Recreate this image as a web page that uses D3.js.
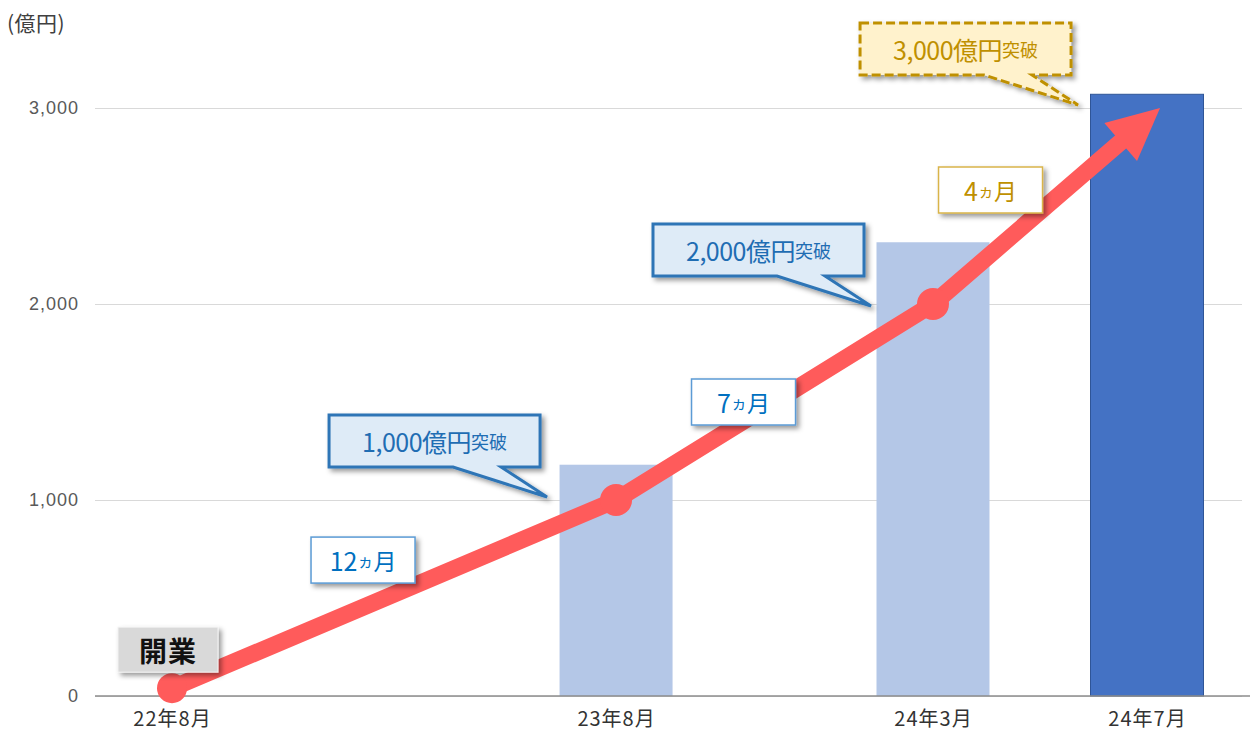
<!DOCTYPE html>
<html>
<head>
<meta charset="utf-8">
<script src="https://cdn.jsdelivr.net/npm/d3@7"></script>
<style>
  body { margin: 0; background: #fff; }
  svg { display: block; }
</style>
</head>
<body>
<div id="holder"></div>
<script>
const w = 1253;
const h = 735;

// DATA
const categories = ["22年8月", "23年8月", "24年3月", "24年7月"];
const slots = [0, 2.075, 3.556, 4.556];          // category positions on the axis
const barValues = [0, 1180, 2315, 3070];
const barFills = ["#b4c7e7", "#b4c7e7", "#b4c7e7", "#4472c4"];
const lineValues = [40, 1000, 2000, 3000];
const lineSlots = [0, 2.075, 3.556, 4.617];
const yTicks = [0, 1000, 2000, 3000];
const milestones = ["1,000", "2,000", "3,000"];
const intervals = ["12", "7", "4"];

const FONT = "'Noto Sans CJK JP', 'Noto Sans', sans-serif";

// CREATE SVG
const svg = d3.select("#holder")
    .append("svg")
    .attr("width", w)
    .attr("height", h)
    .style("font-family", FONT)

const defs = svg.append("defs")
defs.append("filter")
    .attr("id", "shadow")
    .attr("x", "-20%").attr("y", "-20%")
    .attr("width", "150%").attr("height", "160%")
    .append("feDropShadow")
    .attr("dx", 3).attr("dy", 3)
    .attr("stdDeviation", 2.5)
    .attr("flood-color", "#000")
    .attr("flood-opacity", 0.4)

// SCALES
const xScale = d3.scaleLinear()
    .domain([0, 4.556])
    .range([172, 1147])

const yScale = d3.scaleLinear()
    .domain([0, 3000])
    .range([696, 108])

const plotLeft = 95;
const plotRight = 1242;

// Y AXIS + GRID
const yAxis = d3.axisLeft(yScale)
    .tickValues(yTicks)
    .tickSize(-(plotRight - plotLeft))
    .tickPadding(16)
    .tickFormat(d3.format(","))

const gy = svg.append("g")
    .attr("transform", "translate(" + plotLeft + ",0)")
    .call(yAxis)
gy.select(".domain").remove()
gy.selectAll(".tick line").attr("stroke", "#d9d9d9").attr("stroke-width", 1)
gy.selectAll(".tick text")
    .attr("fill", "#595959")
    .style("font-family", "'Liberation Sans', Arial, sans-serif")
    .style("font-size", "18px")
    .style("letter-spacing", "1px")

svg.append("text")
    .attr("x", 7)
    .attr("y", 31)
    .attr("fill", "#404040")
    .style("font-size", "21px")
    .style("letter-spacing", "0.5px")
    .text("(億円)")

// BARS
svg.selectAll("rect.bar")
    .data(barValues)
    .enter()
    .append("rect")
    .attr("class", "bar")
    .attr("x", (d, i) => xScale(slots[i]) - 56.5)
    .attr("y", d => yScale(d))
    .attr("width", 113)
    .attr("height", d => yScale(0) - yScale(d))
    .attr("fill", (d, i) => barFills[i])
    .attr("stroke", (d, i) => i === 3 ? "#2f5597" : "none")
    .attr("stroke-width", 1)

// X AXIS
const xAxis = d3.axisBottom(xScale)
    .tickValues(slots)
    .tickSize(0)
    .tickPadding(16)
    .tickFormat((d, i) => categories[i])

const gx = svg.append("g")
    .attr("transform", "translate(0," + yScale(0) + ")")
    .call(xAxis)
gx.select(".domain").remove()
gx.selectAll(".tick text")
    .attr("fill", "#333")
    .style("font-family", FONT)
    .style("font-size", "20px")
    .style("letter-spacing", "1px")

svg.append("line")
    .attr("x1", plotLeft).attr("x2", 1250)
    .attr("y1", yScale(0)).attr("y2", yScale(0))
    .attr("stroke", "#8c8c8c")
    .attr("stroke-width", 1.5)

// ARROW LINE
const RED = "#ff5b5b";
const pts = lineValues.map((v, i) => [xScale(lineSlots[i]), yScale(v)])
const tip = pts[pts.length - 1]
const prev = pts[pts.length - 2]
const len = Math.hypot(tip[0] - prev[0], tip[1] - prev[1])
const ux = (tip[0] - prev[0]) / len, uy = (tip[1] - prev[1]) / len
const headLen = 52, headHalf = 25
const base = [tip[0] - ux * headLen, tip[1] - uy * headLen]
const shaftPts = pts.slice(0, -1).concat([[base[0] + ux * 6, base[1] + uy * 6]])

svg.append("path")
    .attr("d", d3.line()(shaftPts))
    .attr("fill", "none")
    .attr("stroke", RED)
    .attr("stroke-width", 17)
    .attr("stroke-linejoin", "round")

svg.append("path")
    .attr("d", d3.line()([
        tip,
        [base[0] - uy * headHalf, base[1] + ux * headHalf],
        [base[0] + uy * headHalf, base[1] - ux * headHalf]
    ]) + "Z")
    .attr("fill", RED)

svg.selectAll("circle.pt")
    .data(pts.slice(0, -1))
    .enter()
    .append("circle")
    .attr("class", "pt")
    .attr("cx", d => d[0])
    .attr("cy", d => d[1])
    .attr("r", (d, i) => i === 0 ? 15 : 16)
    .attr("fill", RED)

// MILESTONE CALLOUTS (apex offsets from the line points)
const calloutStyles = [
    { fill: "#deebf7", stroke: "#2e75b6", text: "#1f6db3", dash: null, anchor: 1, dx: -69, dy: -3 },
    { fill: "#deebf7", stroke: "#2e75b6", text: "#1f6db3", dash: null, anchor: 2, dx: -62, dy: 2 },
    { fill: "#fff2cc", stroke: "#bf9000", text: "#bf9000", dash: "9,4", anchor: 3, dx: -82, dy: -3 }
]

function calloutPath(ax, ay) {
    const left = ax - 218, bottom = ay - 30, top = bottom - 52, right = left + 211;
    return "M" + left + "," + top + "H" + right + "V" + bottom +
        "H" + (left + 172) + "L" + ax + "," + ay + "L" + (left + 124) + "," + bottom +
        "H" + left + "Z";
}

milestones.forEach((m, i) => {
    const s = calloutStyles[i]
    const ax = pts[s.anchor][0] + s.dx
    const ay = pts[s.anchor][1] + s.dy
    const g = svg.append("g")
    g.append("path")
        .attr("d", calloutPath(ax, ay))
        .attr("fill", s.fill)
        .attr("stroke", s.stroke)
        .attr("stroke-width", 3)
        .attr("stroke-dasharray", s.dash)
        .attr("filter", "url(#shadow)")
    const t = g.append("text")
        .attr("x", ax - 218 + 105.5)
        .attr("y", ay - 30 - 26)
        .attr("text-anchor", "middle")
        .attr("dominant-baseline", "central")
        .attr("fill", s.text)
    t.append("tspan").style("font-size", "25px").style("letter-spacing", "-0.5px").text(m + "億円")
    t.append("tspan").style("font-size", "18px").text("突破")
})

// INTERVAL BOXES (offsets from segment midpoints)
const boxStyles = [
    { stroke: "#5b9bd5", text: "#0070c0", dx: -31, dy: -34 },
    { stroke: "#5b9bd5", text: "#0070c0", dx: -31, dy: 0 },
    { stroke: "#d9b44a", text: "#bf9000", dx: -56, dy: -16 }
]

intervals.forEach((n, i) => {
    const s = boxStyles[i]
    const cx = (pts[i][0] + pts[i + 1][0]) / 2 + s.dx
    const cy = (pts[i][1] + pts[i + 1][1]) / 2 + s.dy
    svg.append("rect")
        .attr("x", cx - 52)
        .attr("y", cy - 23)
        .attr("width", 104)
        .attr("height", 46)
        .attr("fill", "#fff")
        .attr("stroke", s.stroke)
        .attr("stroke-width", 1.5)
        .attr("filter", "url(#shadow)")
    const t = svg.append("text")
        .attr("x", cx)
        .attr("y", cy)
        .attr("text-anchor", "middle")
        .attr("dominant-baseline", "central")
        .attr("fill", s.text)
    t.append("tspan").style("font-size", "25px").text(n)
    t.append("tspan").style("font-size", "16px").text("ヵ")
    t.append("tspan").style("font-size", "23px").text("月")
})

// OPENING LABEL
const openX = pts[0][0] - 4, openY = pts[0][1] - 38
svg.append("rect")
    .attr("x", openX - 50)
    .attr("y", openY - 23)
    .attr("width", 100)
    .attr("height", 45)
    .attr("fill", "#d9d9d9")
    .attr("stroke", "#f2f2f2")
    .attr("stroke-width", 1)
    .attr("filter", "url(#shadow)")
svg.append("text")
    .attr("x", openX)
    .attr("y", openY)
    .attr("text-anchor", "middle")
    .attr("dominant-baseline", "central")
    .attr("fill", "#111")
    .style("font-size", "28px")
    .style("font-weight", "bold")
    .style("letter-spacing", "1px")
    .text("開業")
</script>
</body>
</html>
